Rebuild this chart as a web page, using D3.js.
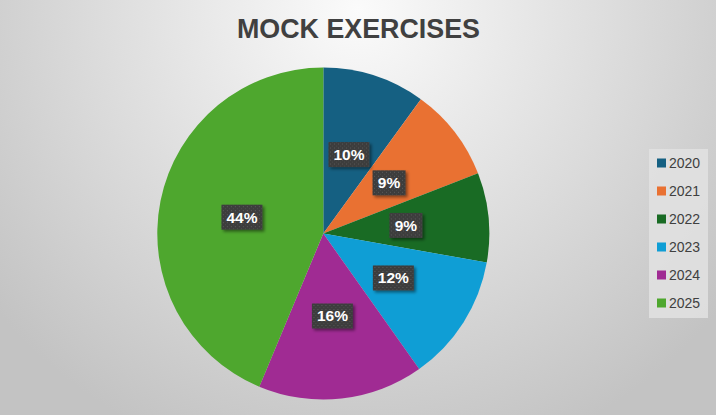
<!DOCTYPE html>
<html>
<head>
<meta charset="utf-8">
<script src="https://cdn.jsdelivr.net/npm/d3@7"></script>
<style>
  html, body { margin: 0; padding: 0; background: #fff; }
  svg { display: block; }
</style>
</head>
<body>
<svg id="chart" width="716" height="415"></svg>
<script>
// ---- data ----
const title = "MOCK EXERCISES";
const categories = ["2020", "2021", "2022", "2023", "2024", "2025"];
const values = [10.0, 9.1, 8.7, 12.4, 16.1, 43.7];
const colors = ["#156082", "#E97132", "#196B24", "#0F9ED5", "#A02B93", "#4EA72E"];

const W = 716, H = 415;
const svg = d3.select("#chart");
const defs = svg.append("defs");

// background radial gradient
const bg = defs.append("radialGradient").attr("id", "bg")
  .attr("gradientUnits", "userSpaceOnUse")
  .attr("cx", 358).attr("cy", 10).attr("r", 470)
  .attr("fx", 358).attr("fy", 10);
bg.append("stop").attr("offset", "0%").attr("stop-color", "#fbfbfb");
bg.append("stop").attr("offset", "100%").attr("stop-color", "#c3c3c3");
svg.append("rect").attr("width", W).attr("height", H).attr("fill", "url(#bg)");

// dotted pattern for labels
const pat = defs.append("pattern").attr("id", "dots")
  .attr("patternUnits", "userSpaceOnUse").attr("width", 4).attr("height", 4);
pat.append("rect").attr("width", 4).attr("height", 4).attr("fill", "#3d3d3d");
pat.append("rect").attr("x", 1).attr("y", 1).attr("width", 1).attr("height", 1).attr("fill", "#5a5a5a");
pat.append("rect").attr("x", 3).attr("y", 3).attr("width", 1).attr("height", 1).attr("fill", "#4c4c4c");

const sh = defs.append("filter").attr("id", "shadow")
  .attr("x", "-30%").attr("y", "-30%").attr("width", "170%").attr("height", "170%");
sh.append("feDropShadow").attr("dx", 2).attr("dy", 2).attr("stdDeviation", 1.5)
  .attr("flood-color", "#000").attr("flood-opacity", 0.45);

// title
svg.append("text")
  .attr("x", 358.5).attr("y", 38)
  .attr("text-anchor", "middle")
  .attr("font-family", "Liberation Sans, Arial, sans-serif")
  .attr("font-weight", "bold")
  .attr("font-size", 27)
  .attr("textLength", 243)
  .attr("lengthAdjust", "spacingAndGlyphs")
  .attr("fill", "#404040")
  .text(title);

// pie
const cx = 323.3, cy = 233.5, R = 166;
const data = categories.map((c, i) => ({ cat: c, value: values[i], color: colors[i] }));
const total = d3.sum(values);
const pie = d3.pie().value(d => d.value).sort(null);
const arc = d3.arc().innerRadius(0).outerRadius(R);
const arcs = pie(data);

const g = svg.append("g").attr("transform", `translate(${cx},${cy})`);
g.selectAll("path.slice").data(arcs).enter().append("path")
  .attr("class", "slice")
  .attr("d", arc)
  .attr("fill", d => d.data.color)
  .attr("stroke", "none");

// labels
const fmt = d => Math.round(d.data.value / total * 100) + "%";
const lab = g.selectAll("g.lab").data(arcs).enter().append("g")
  .attr("class", "lab")
  .attr("transform", d => { const c = arc.centroid(d); return `translate(${c[0]},${c[1]})`; });
lab.each(function(d) {
  const t = fmt(d);
  const w = t.length === 2 ? 33 : 41;
  d3.select(this).append("rect")
    .attr("x", -w / 2).attr("y", -12.5).attr("width", w).attr("height", 25)
    .attr("fill", "url(#dots)")
    .attr("filter", "url(#shadow)");
  d3.select(this).append("text")
    .attr("text-anchor", "middle").attr("y", 5.5)
    .attr("font-family", "Liberation Sans, Arial, sans-serif")
    .attr("font-weight", "bold").attr("font-size", 15.5)
    .attr("fill", "#ffffff")
    .text(t);
});

// legend
const lg = svg.append("g");
lg.append("rect").attr("x", 649).attr("y", 149).attr("width", 59).attr("height", 169)
  .attr("fill", "#e2e2e2").attr("opacity", 0.85);
const rowY = d3.scalePoint().domain(categories).range([163, 303]);
const items = lg.selectAll("g.item").data(data).enter().append("g").attr("class", "item")
  .attr("transform", d => `translate(657,${rowY(d.cat)})`);
items.append("rect").attr("x", 0).attr("y", -4.5).attr("width", 9).attr("height", 9)
  .attr("fill", d => d.color);
items.append("text").attr("x", 12).attr("y", 5)
  .attr("font-family", "Liberation Sans, Arial, sans-serif")
  .attr("font-size", 14).attr("fill", "#404040")
  .text(d => d.cat);
</script>
</body>
</html>
